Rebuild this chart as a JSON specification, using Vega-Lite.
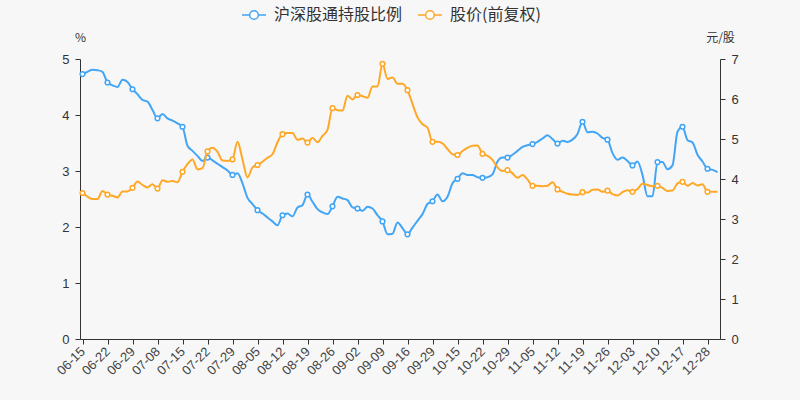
{
  "$schema": "https://vega.github.io/schema/vega-lite/v6.json",
  "autosize": "none",
  "width": 640,
  "height": 280,
  "padding": {"left": 80, "top": 59, "right": 80, "bottom": 61},
  "background": "#f7f7f7",
  "config": {
    "view": {"stroke": null},
    "font": "Liberation Sans",
    "axis": {"domainColor": "#333333", "tickColor": "#333333", "labelColor": "#333333", "labelFontSize": 12, "grid": false, "tickSize": 5, "domainWidth": 1}
  },
  "data": {"values": [
    {"date": "06-15", "ratio": 4.73, "price": 3.65},
    {"date": "06-16", "ratio": 4.77, "price": 3.56},
    {"date": "06-17", "ratio": 4.81, "price": 3.50},
    {"date": "06-18", "ratio": 4.80, "price": 3.50},
    {"date": "06-21", "ratio": 4.77, "price": 3.70},
    {"date": "06-22", "ratio": 4.58, "price": 3.61},
    {"date": "06-23", "ratio": 4.53, "price": 3.58},
    {"date": "06-24", "ratio": 4.50, "price": 3.54},
    {"date": "06-25", "ratio": 4.63, "price": 3.69},
    {"date": "06-28", "ratio": 4.59, "price": 3.69},
    {"date": "06-29", "ratio": 4.46, "price": 3.78},
    {"date": "06-30", "ratio": 4.37, "price": 3.94},
    {"date": "07-02", "ratio": 4.27, "price": 3.85},
    {"date": "07-05", "ratio": 4.24, "price": 3.79},
    {"date": "07-06", "ratio": 4.09, "price": 3.87},
    {"date": "07-08", "ratio": 3.94, "price": 3.76},
    {"date": "07-09", "ratio": 4.02, "price": 3.97},
    {"date": "07-12", "ratio": 3.94, "price": 3.93},
    {"date": "07-13", "ratio": 3.90, "price": 3.95},
    {"date": "07-14", "ratio": 3.85, "price": 3.92},
    {"date": "07-15", "ratio": 3.79, "price": 4.18},
    {"date": "07-16", "ratio": 3.45, "price": 4.37},
    {"date": "07-19", "ratio": 3.36, "price": 4.49},
    {"date": "07-20", "ratio": 3.27, "price": 4.24},
    {"date": "07-21", "ratio": 3.18, "price": 4.27},
    {"date": "07-22", "ratio": 3.24, "price": 4.69},
    {"date": "07-23", "ratio": 3.19, "price": 4.78},
    {"date": "07-26", "ratio": 3.13, "price": 4.68},
    {"date": "07-27", "ratio": 3.07, "price": 4.46},
    {"date": "07-28", "ratio": 3.01, "price": 4.45},
    {"date": "07-29", "ratio": 2.93, "price": 4.49},
    {"date": "07-30", "ratio": 2.96, "price": 4.93},
    {"date": "08-02", "ratio": 2.78, "price": 4.49},
    {"date": "08-03", "ratio": 2.52, "price": 4.04},
    {"date": "08-04", "ratio": 2.41, "price": 4.29},
    {"date": "08-05", "ratio": 2.30, "price": 4.35},
    {"date": "08-06", "ratio": 2.24, "price": 4.43},
    {"date": "08-09", "ratio": 2.17, "price": 4.53},
    {"date": "08-10", "ratio": 2.10, "price": 4.62},
    {"date": "08-11", "ratio": 2.03, "price": 4.92},
    {"date": "08-12", "ratio": 2.21, "price": 5.12},
    {"date": "08-13", "ratio": 2.24, "price": 5.15},
    {"date": "08-16", "ratio": 2.19, "price": 5.15},
    {"date": "08-17", "ratio": 2.35, "price": 4.98},
    {"date": "08-18", "ratio": 2.39, "price": 5.01},
    {"date": "08-19", "ratio": 2.58, "price": 4.91},
    {"date": "08-20", "ratio": 2.45, "price": 5.03},
    {"date": "08-23", "ratio": 2.32, "price": 4.92},
    {"date": "08-24", "ratio": 2.26, "price": 5.08},
    {"date": "08-25", "ratio": 2.23, "price": 5.23},
    {"date": "08-26", "ratio": 2.37, "price": 5.77},
    {"date": "08-27", "ratio": 2.54, "price": 5.72},
    {"date": "08-30", "ratio": 2.51, "price": 5.71},
    {"date": "08-31", "ratio": 2.48, "price": 6.08},
    {"date": "09-01", "ratio": 2.35, "price": 5.99},
    {"date": "09-02", "ratio": 2.33, "price": 6.10},
    {"date": "09-03", "ratio": 2.29, "price": 6.07},
    {"date": "09-06", "ratio": 2.36, "price": 6.03},
    {"date": "09-07", "ratio": 2.33, "price": 6.31},
    {"date": "09-08", "ratio": 2.21, "price": 6.31},
    {"date": "09-09", "ratio": 2.10, "price": 6.88},
    {"date": "09-10", "ratio": 1.87, "price": 6.50},
    {"date": "09-13", "ratio": 1.88, "price": 6.54},
    {"date": "09-14", "ratio": 2.08, "price": 6.38},
    {"date": "09-15", "ratio": 1.98, "price": 6.38},
    {"date": "09-16", "ratio": 1.87, "price": 6.22},
    {"date": "09-17", "ratio": 1.99, "price": 5.88},
    {"date": "09-23", "ratio": 2.11, "price": 5.54},
    {"date": "09-24", "ratio": 2.23, "price": 5.37},
    {"date": "09-27", "ratio": 2.41, "price": 5.28},
    {"date": "09-29", "ratio": 2.46, "price": 4.93},
    {"date": "09-30", "ratio": 2.58, "price": 4.93},
    {"date": "10-08", "ratio": 2.46, "price": 4.89},
    {"date": "10-11", "ratio": 2.54, "price": 4.75},
    {"date": "10-12", "ratio": 2.78, "price": 4.62},
    {"date": "10-15", "ratio": 2.86, "price": 4.60},
    {"date": "10-18", "ratio": 2.96, "price": 4.70},
    {"date": "10-19", "ratio": 2.93, "price": 4.78},
    {"date": "10-20", "ratio": 2.93, "price": 4.83},
    {"date": "10-21", "ratio": 2.89, "price": 4.84},
    {"date": "10-22", "ratio": 2.88, "price": 4.63},
    {"date": "10-25", "ratio": 2.89, "price": 4.58},
    {"date": "10-26", "ratio": 2.94, "price": 4.48},
    {"date": "10-27", "ratio": 3.17, "price": 4.29},
    {"date": "10-28", "ratio": 3.24, "price": 4.20},
    {"date": "10-29", "ratio": 3.24, "price": 4.22},
    {"date": "11-01", "ratio": 3.29, "price": 4.14},
    {"date": "11-02", "ratio": 3.36, "price": 4.03},
    {"date": "11-03", "ratio": 3.43, "price": 4.10},
    {"date": "11-04", "ratio": 3.46, "price": 3.99},
    {"date": "11-05", "ratio": 3.48, "price": 3.83},
    {"date": "11-08", "ratio": 3.52, "price": 3.83},
    {"date": "11-09", "ratio": 3.58, "price": 3.82},
    {"date": "11-10", "ratio": 3.64, "price": 3.83},
    {"date": "11-11", "ratio": 3.57, "price": 3.92},
    {"date": "11-12", "ratio": 3.49, "price": 3.74},
    {"date": "11-15", "ratio": 3.54, "price": 3.68},
    {"date": "11-16", "ratio": 3.52, "price": 3.63},
    {"date": "11-17", "ratio": 3.56, "price": 3.61},
    {"date": "11-18", "ratio": 3.66, "price": 3.60},
    {"date": "11-19", "ratio": 3.88, "price": 3.67},
    {"date": "11-22", "ratio": 3.69, "price": 3.66},
    {"date": "11-23", "ratio": 3.70, "price": 3.73},
    {"date": "11-24", "ratio": 3.67, "price": 3.74},
    {"date": "11-25", "ratio": 3.59, "price": 3.68},
    {"date": "11-26", "ratio": 3.56, "price": 3.71},
    {"date": "11-29", "ratio": 3.32, "price": 3.62},
    {"date": "11-30", "ratio": 3.20, "price": 3.59},
    {"date": "12-01", "ratio": 3.24, "price": 3.67},
    {"date": "12-02", "ratio": 3.18, "price": 3.72},
    {"date": "12-03", "ratio": 3.10, "price": 3.68},
    {"date": "12-06", "ratio": 3.17, "price": 3.75},
    {"date": "12-07", "ratio": 2.93, "price": 3.88},
    {"date": "12-08", "ratio": 2.55, "price": 3.85},
    {"date": "12-09", "ratio": 2.55, "price": 3.82},
    {"date": "12-10", "ratio": 3.16, "price": 3.83},
    {"date": "12-13", "ratio": 3.16, "price": 3.78},
    {"date": "12-14", "ratio": 3.03, "price": 3.70},
    {"date": "12-15", "ratio": 3.10, "price": 3.71},
    {"date": "12-16", "ratio": 3.70, "price": 3.89},
    {"date": "12-17", "ratio": 3.79, "price": 3.93},
    {"date": "12-20", "ratio": 3.55, "price": 3.83},
    {"date": "12-21", "ratio": 3.51, "price": 3.90},
    {"date": "12-22", "ratio": 3.29, "price": 3.84},
    {"date": "12-23", "ratio": 3.17, "price": 3.87},
    {"date": "12-28", "ratio": 3.04, "price": 3.68},
    {"date": "12-29", "ratio": 3.02, "price": 3.68},
    {"date": "12-30", "ratio": 2.98, "price": 3.68}
  ]},
  "encoding": {
    "x": {
      "field": "date", "type": "ordinal", "sort": null,
      "scale": {"type": "point", "padding": 0.5},
      "axis": {
        "title": null,
        "values": ["06-15","06-22","06-29","07-08","07-15","07-22","07-29","08-05","08-12","08-19","08-26","09-02","09-09","09-16","09-29","10-15","10-22","10-29","11-05","11-12","11-19","11-26","12-03","12-10","12-17","12-28"],
        "labelAngle": -45, "labelAlign": "right", "labelBaseline": "middle", "labelPadding": 5, "labelFontSize": 13, "labelColor": "#444444"
      }
    },
    "color": {
      "type": "nominal",
      "scale": {"domain": ["沪深股通持股比例", "股价(前复权)"], "range": ["#42a5f5", "#ffa726"]},
      "legend": {
        "title": null, "orient": "none", "direction": "horizontal",
        "legendX": 161, "legendY": -57,
        "symbolType": "M-1,0L-0.36,0M0.36,0L1,0M-0.36,0A0.36,0.36,0,1,1,0.36,0A0.36,0.36,0,1,1,-0.36,0Z",
        "symbolSize": 576, "symbolStrokeWidth": 1.5, "symbolFillColor": "white",
        "labelFont": "Noto Sans CJK SC", "labelFontSize": 16, "labelColor": "#333333",
        "labelOffset": 7, "columnPadding": 12, "labelLimit": 300
      }
    }
  },
  "layer": [
    {
      "encoding": {
        "y": {"field": "ratio", "type": "quantitative",
          "scale": {"domain": [0, 5], "nice": false, "zero": true},
          "axis": {"orient": "left", "values": [0,1,2,3,4,5], "labelFontSize": 13, "labelPadding": 6,
            "title": "%", "titleAngle": 0, "titleX": 0, "titleY": -22, "titleAlign": "center", "titleBaseline": "middle",
            "titleFontSize": 12, "titleFontWeight": "normal", "titleColor": "#333333", "titleFont": "Noto Sans CJK SC"}
        },
        "color": {"datum": "沪深股通持股比例", "type": "nominal"}
      },
      "layer": [
        {"mark": {"type": "line", "interpolate": "monotone", "strokeWidth": 2}},
        {
          "transform": [{"filter": {"field": "date", "oneOf": ["06-15","06-22","06-29","07-08","07-15","07-22","07-29","08-05","08-12","08-19","08-26","09-02","09-09","09-16","09-29","10-15","10-22","10-29","11-05","11-12","11-19","11-26","12-03","12-10","12-17","12-28"]}}],
          "mark": {"type": "point", "shape": "circle", "filled": false, "fill": "white", "fillOpacity": 1, "opacity": 1, "strokeWidth": 1.5, "size": 22}
        }
      ]
    },
    {
      "encoding": {
        "y": {"field": "price", "type": "quantitative",
          "scale": {"domain": [0, 7], "nice": false, "zero": true},
          "axis": {"orient": "right", "values": [0,1,2,3,4,5,6,7], "labelFontSize": 13, "labelPadding": 6,
            "title": "元/股", "titleAngle": 0, "titleX": 0, "titleY": -22, "titleAlign": "center", "titleBaseline": "middle",
            "titleFontSize": 12, "titleFontWeight": "normal", "titleColor": "#333333", "titleFont": "Noto Sans CJK SC"}
        },
        "color": {"datum": "股价(前复权)", "type": "nominal"}
      },
      "layer": [
        {"mark": {"type": "line", "interpolate": "monotone", "strokeWidth": 2}},
        {
          "transform": [{"filter": {"field": "date", "oneOf": ["06-15","06-22","06-29","07-08","07-15","07-22","07-29","08-05","08-12","08-19","08-26","09-02","09-09","09-16","09-29","10-15","10-22","10-29","11-05","11-12","11-19","11-26","12-03","12-10","12-17","12-28"]}}],
          "mark": {"type": "point", "shape": "circle", "filled": false, "fill": "white", "fillOpacity": 1, "opacity": 1, "strokeWidth": 1.5, "size": 22}
        }
      ]
    }
  ],
  "resolve": {"scale": {"y": "independent"}, "axis": {"y": "independent"}}
}
